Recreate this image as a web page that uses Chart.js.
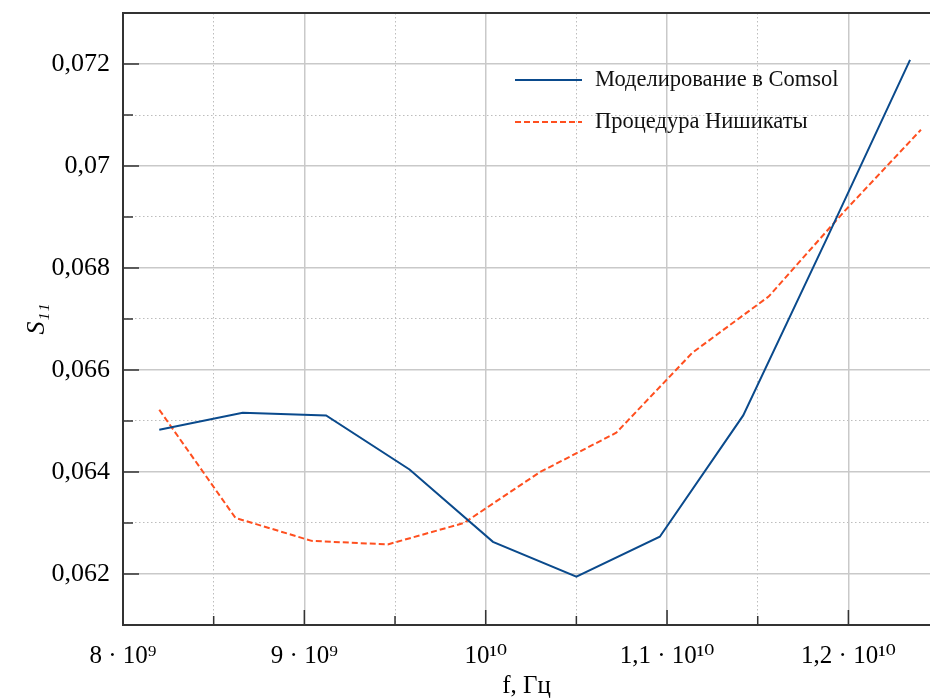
<!DOCTYPE html>
<html>
<head>
<meta charset="utf-8">
<script src="https://cdn.jsdelivr.net/npm/chart.js@4.4.1/dist/chart.umd.min.js"></script>
<style>
  html, body { margin: 0; padding: 0; background: #fff; }
  #wrap { width: 930px; height: 698px; }
</style>
</head>
<body>
<div id="wrap"><canvas id="s11"></canvas></div>
<script>
// frequency, Hz
var freqComsol = [8.2e9, 8.66e9, 9.12e9, 9.58e9, 10.04e9, 10.5e9, 10.96e9, 11.42e9, 11.88e9, 12.34e9];
var s11Comsol = [0.06483, 0.06516, 0.06511, 0.06405, 0.06263, 0.06195, 0.06273, 0.06511, 0.06857, 0.07208];

var freqNishikata = [8.2e9, 8.62e9, 9.04e9, 9.46e9, 9.88e9, 10.3e9, 10.72e9, 11.14e9, 11.56e9, 11.98e9, 12.4e9];
var s11Nishikata = [0.06522, 0.0631, 0.06265, 0.06258, 0.0630, 0.0640, 0.06477, 0.06634, 0.06744, 0.06912, 0.07071];

var seriesNames = ["Моделирование в Comsol", "Процедура Нишикаты"];

var xTicks = [8e9, 9e9, 10e9, 11e9, 12e9];
var xTickLabels = ["8 · 10⁹", "9 · 10⁹", "10¹⁰", "1,1 · 10¹⁰", "1,2 · 10¹⁰"];
var xMinorTicks = [8.5e9, 9.5e9, 10.5e9, 11.5e9];

var yTicks = [0.062, 0.064, 0.066, 0.068, 0.07, 0.072];
var yTickLabels = ["0,062", "0,064", "0,066", "0,068", "0,07", "0,072"];
var yMinorTicks = [0.063, 0.065, 0.067, 0.069, 0.071];

var X_MIN = 8e9, X_MAX = 12.45e9, Y_MIN = 0.061, Y_MAX = 0.073;

function zip(xs, ys) {
  var out = [];
  for (var i = 0; i < xs.length; i++) out.push({ x: xs[i], y: ys[i] });
  return out;
}

function fixTicks(values) {
  return function (scale) {
    scale.ticks = values.map(function (v) { return { value: v }; });
  };
}

function noPad(s) {
  s.paddingTop = 0; s.paddingBottom = 0; s.paddingLeft = 0; s.paddingRight = 0;
}

var serif = "'Liberation Serif', 'DejaVu Serif', serif";
var gridColor = "#c9c9c9";
var axisColor = "#333333";

// inward tick marks, frame and the legend inside the plot
var framePlugin = {
  id: "frame",
  afterDatasetsDraw: function (chart) {
    var ctx = chart.ctx, a = chart.chartArea, sc = chart.scales;
    ctx.save();
    ctx.strokeStyle = axisColor;
    ctx.lineWidth = 1.5;
    ctx.beginPath();
    sc.x.ticks.forEach(function (t) {
      var px = sc.x.getPixelForValue(t.value);
      ctx.moveTo(px, a.bottom); ctx.lineTo(px, a.bottom - 15);
    });
    sc.xMinor.ticks.forEach(function (t) {
      var px = sc.xMinor.getPixelForValue(t.value);
      ctx.moveTo(px, a.bottom); ctx.lineTo(px, a.bottom - 9);
    });
    sc.y.ticks.forEach(function (t) {
      var py = sc.y.getPixelForValue(t.value);
      ctx.moveTo(a.left, py); ctx.lineTo(a.left + 16, py);
    });
    sc.yMinor.ticks.forEach(function (t) {
      var py = sc.yMinor.getPixelForValue(t.value);
      ctx.moveTo(a.left, py); ctx.lineTo(a.left + 10, py);
    });
    ctx.stroke();

    ctx.lineWidth = 2;
    ctx.beginPath();
    ctx.moveTo(a.right, a.top);
    ctx.lineTo(a.left, a.top);
    ctx.lineTo(a.left, a.bottom);
    ctx.lineTo(a.right, a.bottom);
    ctx.stroke();

    // legend
    var lx = a.right - 415, ly = a.top + 67;
    ctx.font = "22.5px " + serif;
    ctx.textBaseline = "middle";
    ctx.fillStyle = "#111";
    chart.data.datasets.forEach(function (ds, i) {
      var y = ly + i * 42;
      ctx.beginPath();
      ctx.strokeStyle = ds.borderColor;
      ctx.lineWidth = ds.borderWidth;
      ctx.setLineDash(ds.borderDash || []);
      ctx.moveTo(lx, y); ctx.lineTo(lx + 67, y);
      ctx.stroke();
      ctx.setLineDash([]);
      ctx.fillText(ds.label, lx + 80, y);
    });
    ctx.restore();
  }
};

var ctx = document.getElementById("s11");

var chart = new Chart(ctx, {
  type: "line",
  data: {
    datasets: [
      {
        label: seriesNames[0],
        data: zip(freqComsol, s11Comsol),
        borderColor: "#0a4a8c",
        borderWidth: 2,
        pointRadius: 0,
        tension: 0,
        fill: false
      },
      {
        label: seriesNames[1],
        data: zip(freqNishikata, s11Nishikata),
        borderColor: "#ff4f1f",
        borderWidth: 2,
        borderDash: [6, 3],
        pointRadius: 0,
        tension: 0,
        fill: false
      }
    ]
  },
  options: {
    responsive: true,
    maintainAspectRatio: false,
    animation: false,
    layout: { padding: { top: 13, right: 0, bottom: 0, left: 0 } },
    plugins: {
      legend: { display: false },
      tooltip: { enabled: false }
    },
    scales: {
      xMinor: {
        type: "linear",
        position: "bottom",
        min: X_MIN, max: X_MAX,
        afterBuildTicks: fixTicks(xMinorTicks),
        ticks: { display: false },
        grid: { color: "#bdbdbd", lineWidth: 1, drawTicks: false },
        border: { display: false, dash: [1.5, 2.5] },
        afterFit: function (s) { s.height = 0; noPad(s); }
      },
      yMinor: {
        type: "linear",
        position: "left",
        min: Y_MIN, max: Y_MAX,
        afterBuildTicks: fixTicks(yMinorTicks),
        ticks: { display: false },
        grid: { color: "#bdbdbd", lineWidth: 1, drawTicks: false },
        border: { display: false, dash: [1.5, 2.5] },
        afterFit: function (s) { s.width = 0; noPad(s); }
      },
      x: {
        type: "linear",
        position: "bottom",
        min: X_MIN, max: X_MAX,
        afterBuildTicks: fixTicks(xTicks),
        afterFit: function (s) { s.height = 73; noPad(s); },
        grid: { color: gridColor, lineWidth: 1.5, drawTicks: false },
        border: { display: false },
        ticks: {
          padding: 16,
          color: "#000",
          maxRotation: 0,
          font: { family: serif, size: 25 },
          callback: function (v, i) { return xTickLabels[i]; }
        },
        title: {
          display: true,
          text: "f, Гц",
          color: "#000",
          font: { family: serif, size: 25, style: "normal" },
          padding: { top: 0, bottom: -3 }
        }
      },
      y: {
        type: "linear",
        position: "left",
        min: Y_MIN, max: Y_MAX,
        afterBuildTicks: fixTicks(yTicks),
        afterFit: function (s) { s.width = 123; noPad(s); },
        grid: { color: gridColor, lineWidth: 1.5, drawTicks: false },
        border: { display: false },
        ticks: {
          padding: 13,
          color: "#000",
          font: { family: serif, size: 26 },
          callback: function (v, i) { return yTickLabels[i]; }
        },
        title: {
          display: true,
          text: "S₁₁",
          color: "#000",
          font: { family: serif, size: 26, style: "italic" },
          padding: { top: 22, bottom: 0 }
        }
      }
    }
  },
  plugins: [framePlugin]
});
</script>
</body>
</html>
